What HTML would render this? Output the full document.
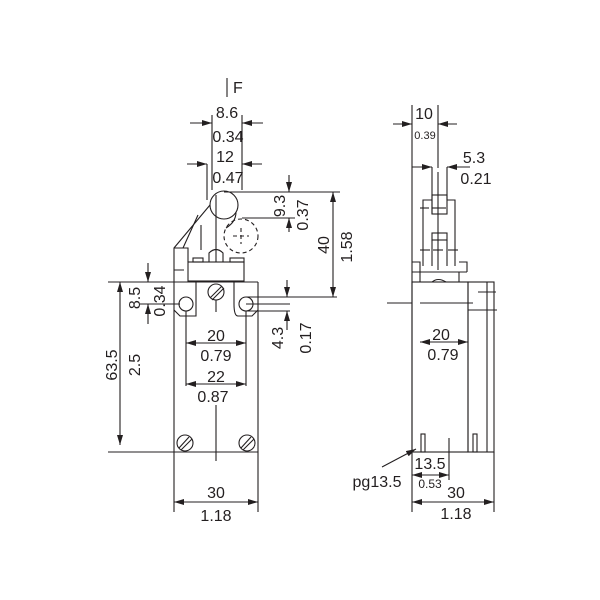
<!DOCTYPE html>
<html><head><style>body{margin:0;background:#fff}svg{display:block}text{font-family:"Liberation Sans",sans-serif;fill:#231f20}</style></head><body>
<svg width="600" height="600" viewBox="0 0 600 600" xmlns="http://www.w3.org/2000/svg">
<defs><marker id="a" viewBox="0 0 10 6" refX="10" refY="3" markerWidth="10" markerHeight="6" orient="auto-start-reverse" markerUnits="userSpaceOnUse"><path d="M0,0L10,3L0,6z" fill="#231f20"/></marker></defs>
<g stroke="#231f20" stroke-width="1.1" fill="none">
<line x1="227" y1="78" x2="227" y2="97"/>
<line x1="212" y1="115" x2="212" y2="190"/><line x1="242" y1="115" x2="242" y2="190"/>
<line x1="190" y1="123" x2="212" y2="123" marker-end="url(#a)"/><line x1="263" y1="123" x2="242" y2="123" marker-end="url(#a)"/>
<line x1="207" y1="164" x2="207" y2="200"/>
<line x1="187" y1="164" x2="207" y2="164" marker-end="url(#a)"/><line x1="262" y1="164" x2="242" y2="164" marker-end="url(#a)"/>
<circle cx="224" cy="205" r="14"/>
<path d="M236 212 Q236 222 226 228"/>
<path d="M210 205 L174 248 L174 282 M188 262 L188 248 L174 248 M174 270 L184 270"/>
<path d="M198 215 L183 248 M201 225 L201 250"/>
<circle cx="241" cy="236" r="17" stroke-dasharray="4 3"/>
<line x1="233" y1="236" x2="249" y2="236" stroke-dasharray="4 3"/><line x1="241" y1="228" x2="241" y2="244" stroke-dasharray="4 3"/>
<path d="M216 195 L216 262 M209 262 L209 253 Q216 246 223 253 L223 262"/>
<rect x="188" y="262" width="56" height="19"/>
<rect x="193" y="258" width="10" height="4"/><rect x="230" y="258" width="14" height="4"/>
<line x1="224" y1="192" x2="340" y2="192"/><line x1="242" y1="218" x2="295" y2="218"/>
<line x1="289" y1="175" x2="289" y2="192" marker-end="url(#a)"/><line x1="289" y1="232" x2="289" y2="218" marker-end="url(#a)"/>
<line x1="333" y1="192" x2="333" y2="297" marker-start="url(#a)" marker-end="url(#a)"/>
<line x1="246" y1="297" x2="337" y2="297"/><line x1="246" y1="311" x2="290" y2="311"/><line x1="246" y1="304" x2="290" y2="304"/>
<line x1="108" y1="282" x2="258" y2="282"/><line x1="108" y1="452" x2="258" y2="452"/>
<line x1="174" y1="282" x2="174" y2="512"/><line x1="258" y1="282" x2="258" y2="512"/>
<path d="M174 310 L180 316 L196 316 L196 282 M258 310 L252 316 L238 316 Q234 316 234 304 L234 282"/>
<circle cx="186" cy="304" r="7"/><circle cx="246" cy="304" r="7"/>
<circle cx="216" cy="292" r="8"/><line x1="210" y1="298" x2="222" y2="286"/><line x1="212" y1="300" x2="224" y2="288"/>
<line x1="216" y1="300" x2="216" y2="312"/>
<line x1="186" y1="311" x2="186" y2="386"/><line x1="246" y1="311" x2="246" y2="386"/>
<line x1="186" y1="343" x2="246" y2="343" marker-start="url(#a)" marker-end="url(#a)"/>
<line x1="186" y1="384" x2="246" y2="384" marker-start="url(#a)" marker-end="url(#a)"/>
<line x1="216" y1="405" x2="216" y2="461"/>
<circle cx="185" cy="443" r="8"/><line x1="179" y1="448" x2="189" y2="437"/><line x1="181" y1="450" x2="192" y2="439"/>
<circle cx="247" cy="443" r="8"/><line x1="241" y1="448" x2="251" y2="437"/><line x1="243" y1="450" x2="254" y2="439"/>
<line x1="174" y1="502" x2="258" y2="502" marker-start="url(#a)" marker-end="url(#a)"/>
<line x1="148" y1="263" x2="148" y2="282" marker-end="url(#a)"/><line x1="148" y1="324" x2="148" y2="304" marker-end="url(#a)"/>
<line x1="140" y1="304" x2="180" y2="304"/>
<line x1="120" y1="282" x2="120" y2="445" marker-start="url(#a)" marker-end="url(#a)"/>
<line x1="287" y1="280" x2="287" y2="297" marker-end="url(#a)"/><line x1="287" y1="330" x2="287" y2="311" marker-end="url(#a)"/>
<line x1="412" y1="105" x2="412" y2="512"/><line x1="438" y1="105" x2="438" y2="168"/>
<line x1="393" y1="124" x2="412" y2="124" marker-end="url(#a)"/><line x1="457" y1="124" x2="438" y2="124" marker-end="url(#a)"/>
<line x1="412" y1="167" x2="432" y2="167" marker-end="url(#a)"/><line x1="470" y1="167" x2="447" y2="167" marker-end="url(#a)"/>
<line x1="432" y1="167" x2="432" y2="214"/><line x1="447" y1="167" x2="447" y2="200"/>
<line x1="438" y1="172" x2="438" y2="270"/>
<rect x="432" y="195" width="15" height="19"/>
<path d="M423 266 L423 200 L432 200 M447 200 L455 200 L455 266"/>
<line x1="420" y1="208" x2="429" y2="208"/><line x1="432" y1="208" x2="446" y2="208"/>
<rect x="432" y="233" width="15" height="7"/>
<path d="M432 240 L432 266 M447 240 L447 266"/>
<line x1="420" y1="250" x2="430" y2="250"/><line x1="433" y1="250" x2="443" y2="250"/><line x1="448" y1="250" x2="458" y2="250"/>
<path d="M412 262 L420 262 L420 272 M459 262 L467 262 L467 272"/>
<line x1="412" y1="272" x2="467" y2="272"/><line x1="420" y1="272" x2="420" y2="282"/><line x1="459" y1="272" x2="459" y2="282"/>
<path d="M432 282 Q438 277 446 282"/>
<rect x="412" y="282" width="56" height="170"/>
<rect x="468" y="282" width="26" height="170"/><line x1="487" y1="282" x2="487" y2="452"/>
<line x1="478" y1="292" x2="496" y2="292"/>
<line x1="387" y1="303" x2="412" y2="303"/><line x1="420" y1="303" x2="473" y2="303"/>
<line x1="468" y1="310" x2="497" y2="310"/>
<line x1="420" y1="342" x2="468" y2="342" marker-start="url(#a)" marker-end="url(#a)"/>
<rect x="421" y="434" width="4" height="18"/><rect x="473" y="434" width="4" height="18"/>
<line x1="449" y1="438" x2="449" y2="480"/>
<line x1="412" y1="475" x2="449" y2="475" marker-start="url(#a)" marker-end="url(#a)"/>
<line x1="494" y1="452" x2="494" y2="512"/>
<line x1="412" y1="502" x2="494" y2="502" marker-start="url(#a)" marker-end="url(#a)"/>
<line x1="382" y1="467" x2="416" y2="449" marker-end="url(#a)"/>
</g>
<g font-size="16">
<text x="233" y="93">F</text>
<text x="227" y="118" text-anchor="middle">8.6</text>
<text x="228" y="142" text-anchor="middle">0.34</text>
<text x="225" y="162" text-anchor="middle">12</text>
<text x="228" y="183" text-anchor="middle">0.47</text>
<text x="216" y="341" text-anchor="middle">20</text>
<text x="216" y="361" text-anchor="middle">0.79</text>
<text x="216" y="382" text-anchor="middle">22</text>
<text x="213" y="402" text-anchor="middle">0.87</text>
<text x="216" y="498" text-anchor="middle">30</text>
<text x="216" y="521" text-anchor="middle">1.18</text>
<text x="424" y="119" text-anchor="middle">10</text>
<text x="425" y="139" text-anchor="middle" font-size="11">0.39</text>
<text x="474" y="163" text-anchor="middle">5.3</text>
<text x="476" y="184" text-anchor="middle">0.21</text>
<text x="441" y="340" text-anchor="middle">20</text>
<text x="443" y="360" text-anchor="middle">0.79</text>
<text x="430" y="469" text-anchor="middle">13.5</text>
<text x="430" y="488" text-anchor="middle" font-size="12">0.53</text>
<text x="456" y="498" text-anchor="middle">30</text>
<text x="456" y="519" text-anchor="middle">1.18</text>
<text x="377" y="487" text-anchor="middle">pg13.5</text>
<text transform="translate(285,206) rotate(-90)" text-anchor="middle">9.3</text>
<text transform="translate(308,215) rotate(-90)" text-anchor="middle">0.37</text>
<text transform="translate(329,245) rotate(-90)" text-anchor="middle">40</text>
<text transform="translate(352,247) rotate(-90)" text-anchor="middle">1.58</text>
<text transform="translate(140,298) rotate(-90)" text-anchor="middle">8.5</text>
<text transform="translate(165,301) rotate(-90)" text-anchor="middle">0.34</text>
<text transform="translate(117,365) rotate(-90)" text-anchor="middle">63.5</text>
<text transform="translate(140,365) rotate(-90)" text-anchor="middle">2.5</text>
<text transform="translate(283,338) rotate(-90)" text-anchor="middle">4.3</text>
<text transform="translate(311,338) rotate(-90)" text-anchor="middle">0.17</text>
</g>
</svg>
</body></html>
